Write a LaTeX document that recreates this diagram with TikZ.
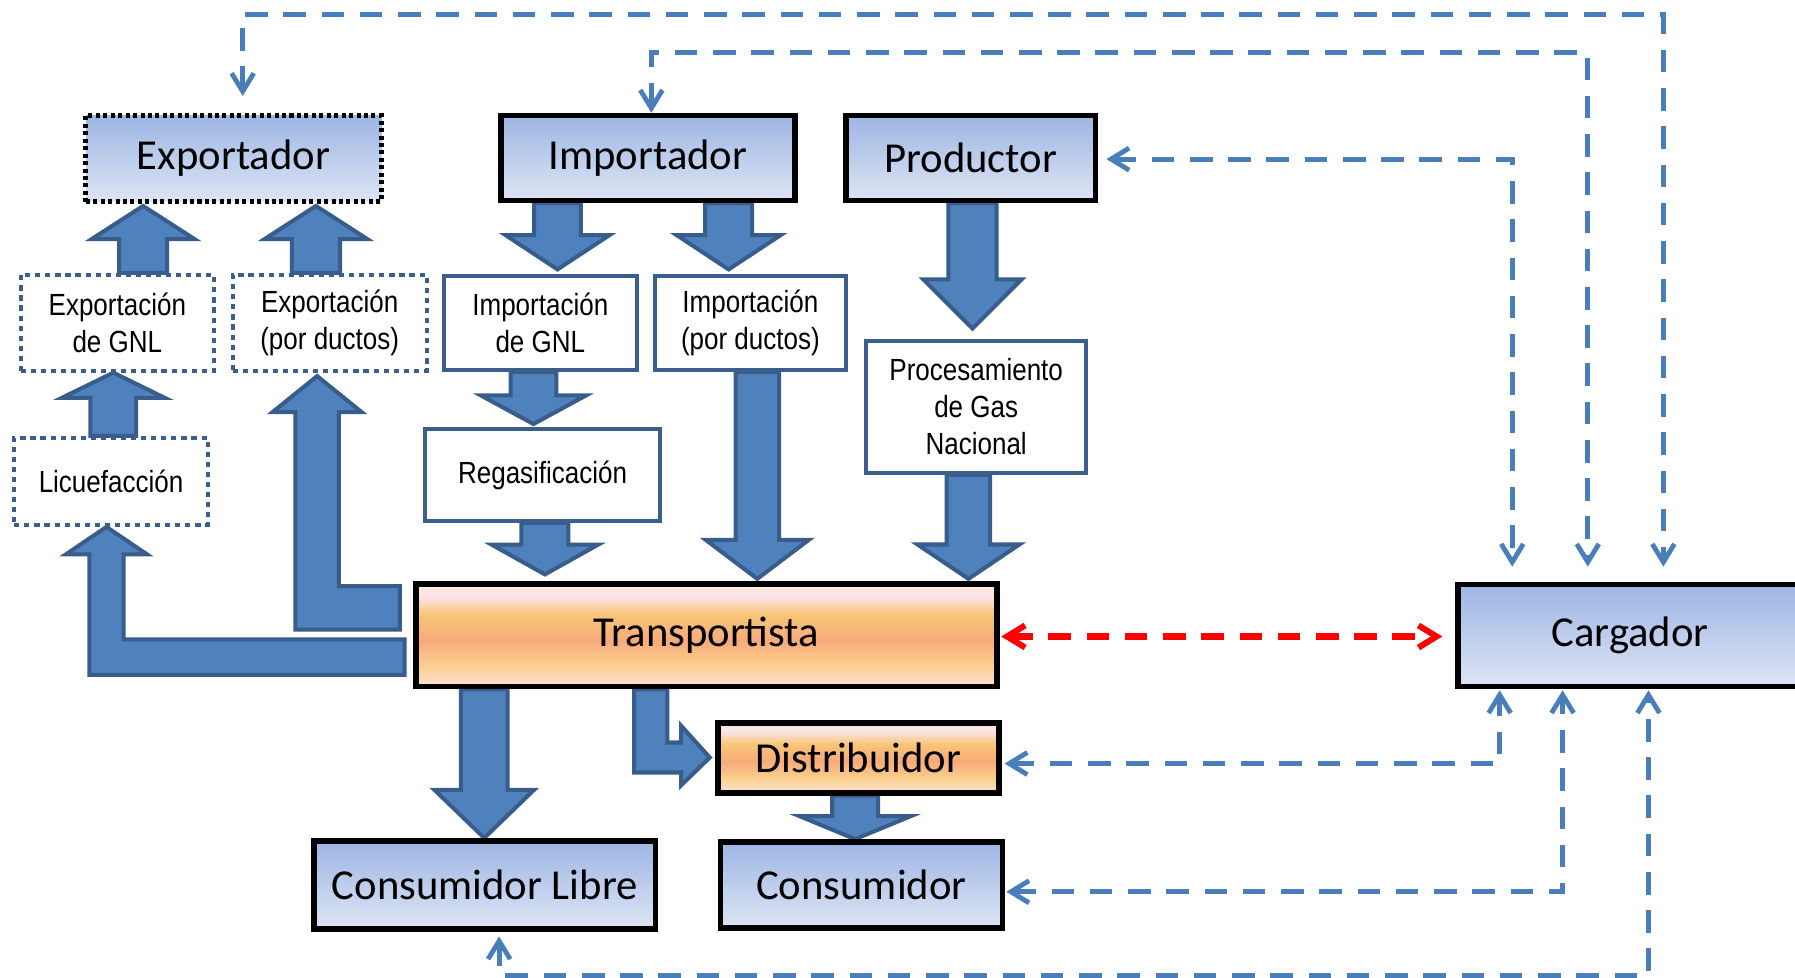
\documentclass[tikz,border=0pt]{standalone}
\usepackage{fontspec}
\setmainfont{Carlito}
\newfontfamily\narrowfont[FakeStretch=0.85]{Liberation Sans}
\usetikzlibrary{arrows.meta,calc,backgrounds}
\definecolor{blkfill}{HTML}{4F81BD}
\definecolor{blkdraw}{HTML}{385D8A}
\definecolor{dblue}{HTML}{4A7EBB}
\definecolor{bord}{HTML}{3B5E8C}
\definecolor{bluetop}{HTML}{9DB6E4}
\definecolor{bluebot}{HTML}{DDE5F4}
\definecolor{o1}{HTML}{FDEAD4}
\definecolor{o2}{HTML}{FCE3EA}
\definecolor{o3}{HTML}{F8C677}
\definecolor{o4}{HTML}{F8AA7A}
\definecolor{o5}{HTML}{FAD18F}
\definecolor{o6}{HTML}{FCE1D8}
\pgfdeclareverticalshading{orangeshade}{100bp}{color(0bp)=(o6); color(25bp)=(o6); color(35bp)=(o5); color(47.5bp)=(o4); color(60bp)=(o3); color(69bp)=(o2); color(75bp)=(o1); color(100bp)=(o1)}
\tikzset{
  bigtext/.style={font=\fontsize{10.6}{12}\selectfont, text=black, inner sep=0pt},
  bluebox/.style={bigtext, draw=black, line width=1.4pt, top color=bluetop, bottom color=bluebot},
  orangebox/.style={bigtext, draw=black, line width=1.4pt, shading=orangeshade},
  expbox/.style={bluebox, line width=1.2pt, dash pattern=on 1.0pt off 0.85pt},
  smalltext/.style={font=\narrowfont\fontsize{7.6}{9.2}\selectfont, align=center, inner sep=0pt, text=black},
  whitebox/.style={smalltext, draw=bord, line width=1pt, fill=white},
  dotbox/.style={whitebox, dash pattern=on 1.28pt off 1.22pt},
  blk/.style={fill=blkfill, draw=blkdraw, line width=1pt, line join=miter},
  barb/.tip={Straight Barb[length=4.5pt,width=5.5pt]},
  dconn/.style={draw=dblue, line width=1.2pt, dash pattern=on 5.6pt off 3.9pt, barb-barb},
  rconn/.style={draw=red, line width=1.5pt, dash pattern=on 5.6pt off 3.9pt, barb-barb},
}
\newcommand\blkv[6]{%
  \draw[blk] let \p1=(#1), \p2=(#2), \n1={(\y1-\y2)/abs(\y1-\y2)} in
   ({#3-#4/2},\y1) -- ({#3-#4/2},{\y2+\n1*#6*0.28453pt}) -- ({#3-#5/2},{\y2+\n1*#6*0.28453pt})
   -- (#3,\y2) -- ({#3+#5/2},{\y2+\n1*#6*0.28453pt}) -- ({#3+#4/2},{\y2+\n1*#6*0.28453pt})
   -- ({#3+#4/2},\y1) -- cycle;}
\newcommand\blkL[8]{%
  \draw[blk] let \p1=(#1), \p2=(#2) in
   (\x1,{#3-#4/2}) -- ({#5+#6/2},{#3-#4/2}) -- ({#5+#6/2},{\y2-#8*0.28453pt})
   -- ({#5+#7/2},{\y2-#8*0.28453pt}) -- (#5,\y2) -- ({#5-#7/2},{\y2-#8*0.28453pt})
   -- ({#5-#6/2},{\y2-#8*0.28453pt}) -- ({#5-#6/2},{#3+#4/2}) -- (\x1,{#3+#4/2}) -- cycle;}
\begin{document}
\begin{tikzpicture}[x=0.01cm,y=-0.01cm]
\useasboundingbox (0,0) rectangle (1568,854);
\clip (0,0) rectangle (1568,854);
% nodes
\node[expbox, minimum width=2.58cm, minimum height=0.75cm] (exp) at (204,138.5) {Exportador};
\node[bluebox, minimum width=2.57cm, minimum height=0.74cm] (imp) at (566,138) {Importador};
\node[bluebox, minimum width=2.18cm, minimum height=0.74cm] (prod) at (848,138) {Productor};
\node[dotbox, minimum width=1.69cm, minimum height=0.835cm] (expgnl) at (102.5,282) {Exportación\\de GNL};
\node[dotbox, minimum width=1.695cm, minimum height=0.835cm] (expduc) at (288,282) {Exportación\\(por ductos)};
\node[whitebox, minimum width=1.68cm, minimum height=0.82cm] (impgnl) at (472,282) {Importación\\de GNL};
\node[whitebox, minimum width=1.67cm, minimum height=0.82cm] (impduc) at (655.5,282) {Importación\\(por ductos)};
\node[whitebox, minimum width=1.925cm, minimum height=1.15cm] (proc) at (852.75,355.5) {Procesamiento\\de Gas\\Nacional};
\node[dotbox, minimum width=1.69cm, minimum height=0.76cm] (lic) at (97,420.5) {Licuefacción};
\node[whitebox, minimum width=2.055cm, minimum height=0.80cm] (reg) at (474,415) {Regasificación};
\node[orangebox, minimum width=5.07cm, minimum height=0.895cm] (tr) at (617,555) {Transportista};
\node[bluebox, minimum width=3.01cm, minimum height=0.89cm] (car) at (1424,555) {Cargador};
\node[orangebox, minimum width=2.45cm, minimum height=0.61cm] (dis) at (750,662) {Distribuidor};
\node[bluebox, minimum width=2.98cm, minimum height=0.77cm] (cl) at (423.5,773) {Consumidor Libre};
\node[bluebox, minimum width=2.46cm, minimum height=0.75cm] (con) at (752.5,773) {Consumidor};
% block arrows
\begin{pgfonlayer}{background}
\blkv{expgnl.north}{[yshift=-0.5pt]exp.south}{125}{42}{90}{29}
\blkv{expduc.north}{[yshift=-0.5pt]exp.south}{276}{42}{90}{29}
\blkv{lic.north}{expgnl.south}{99}{40}{90}{22}
\blkv{imp.south}{[yshift=1.1pt]impgnl.north}{487}{41}{91}{30}
\blkv{imp.south}{[yshift=1.1pt]impduc.north}{636.5}{41}{91}{30}
\blkv{prod.south}{[yshift=2.6pt]proc.north}{849.5}{42}{86}{43}
\blkv{impgnl.south}{[yshift=0.8pt]reg.north}{466}{40}{92}{25}
\blkv{reg.south}{[yshift=1.7pt]tr.north}{476}{41}{93}{26}
\blkv{impduc.south}{[yshift=0.6pt]tr.north}{661.5}{38}{90}{34}
\blkv{proc.south}{[yshift=0.6pt]tr.north}{846}{38}{89}{30}
\blkv{tr.south}{cl.north}{423}{41}{87}{42}
\blkv{dis.south}{con.north}{747}{40}{97}{20}
\blkL{[xshift=-2.1pt]tr.west}{lic.south}{574}{31}{93}{30}{71}{24}
\blkL{[xshift=-3.3pt]tr.west}{[yshift=-0.85pt]expduc.south}{531}{38}{277}{38}{78}{31.5}
\draw[blk] let \p1=(tr.south), \p2=([xshift=-1.4pt]dis.west) in
  (554,\y1) -- (554,674.8) -- ({\x2-25*0.28453pt},674.8) -- ({\x2-25*0.28453pt},686)
  -- (\x2,661.7) -- ({\x2-25*0.28453pt},634) -- ({\x2-25*0.28453pt},648.6)
  -- (583,648.6) -- (583,\y1) -- cycle;
\end{pgfonlayer}
% dashed connectors
\coordinate (t1) at (1453,13);
\coordinate (t2) at (1387,46);
\coordinate (t3) at (1321,139);
\coordinate (b1) at (1310,667);
\coordinate (b2) at (1365,779);
\coordinate (b3) at (1440,852);
\draw[dconn] ($(exp.north)+(8,-15)$) |- (t1) -- ($(car.north -| t1)+(0,-13)$);
\draw[dconn] ($(imp.north)+(3,0)$) |- (t2) -- ($(car.north -| t2)+(0,-13)$);
\draw[dconn] ($(prod.east)+(7,1)$) -| ($(car.north -| t3)+(0,-13)$);
\draw[dconn] ($(dis.east)+(2.5,5)$) -| ($(car.south -| b1)+(0,1)$);
\draw[dconn] ($(con.east)+(1,6)$) -| ($(car.south -| b2)+(0,1)$);
\draw[dconn] ($(cl.south)+(12.5,4)$) |- (b3) -- ($(car.south -| b3)+(0,1)$);
\draw[rconn] ($(tr.east)+(1.5,1)$) -- ($(car.west)+(-11,1)$);
\end{tikzpicture}
\end{document}
